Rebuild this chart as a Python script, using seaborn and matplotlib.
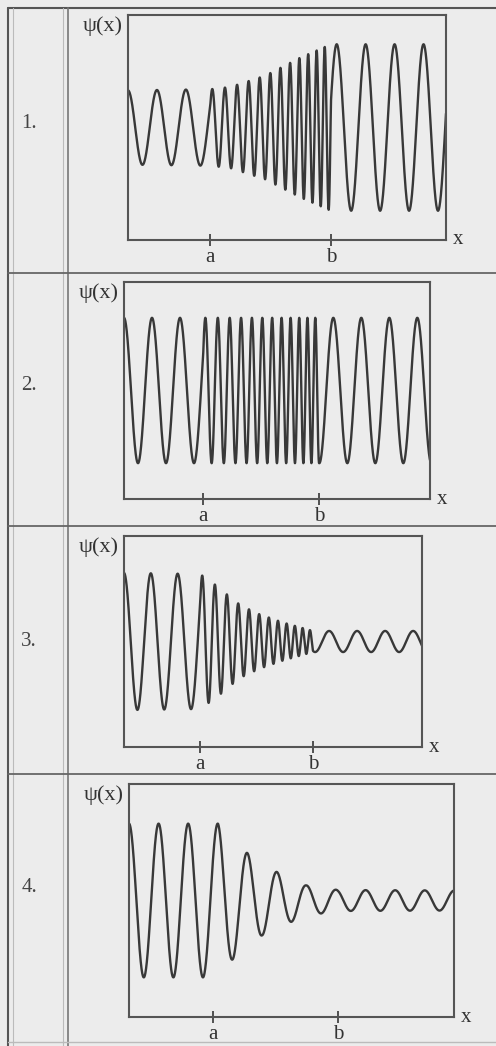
import numpy as np
import pandas as pd
import seaborn as sns
import matplotlib.pyplot as plt
from matplotlib.lines import Line2D

# every box spans x = 0..10, y = -1..1
a_pos = [2.58, 2.58, 2.55, 2.58]
b_pos = [6.38, 6.37, 6.34, 6.43]

# local wavelength and amplitude, given at knots along x
p1_period_x = [0, 2.58, 2.59, 6.38, 6.39, 10]
p1_period = [0.91, 0.91, 0.41, 0.24, 0.91, 0.91]
p1_amp_x = [0, 2.58, 3.21, 4.31, 5.41, 6.38, 10]
p1_amp = [0.33, 0.34, 0.36, 0.46, 0.62, 0.74, 0.74]

p2_period_x = [0, 2.58, 2.59, 6.37, 6.38, 10]
p2_period = [0.915, 0.915, 0.42, 0.245, 0.915, 0.915]
p2_amp_x = [0, 10]
p2_amp = [0.67, 0.67]

p3_period_x = [0, 2.55, 2.56, 6.34, 6.35, 10]
p3_period = [0.9, 0.9, 0.44, 0.235, 0.94, 0.94]
p3_amp_x = [0, 2.55, 3.15, 3.56, 3.93, 4.53, 5.34, 6.34, 10]
p3_amp = [0.65, 0.64, 0.52, 0.42, 0.34, 0.26, 0.18, 0.1, 0.1]

p4_period_x = [0, 10]
p4_period = [0.91, 0.91]
p4_amp_x = [0, 2.74, 3.17, 3.63, 4.09, 4.55, 5.02, 5.45, 5.94, 6.43, 10]
p4_amp = [0.66, 0.66, 0.51, 0.41, 0.30, 0.245, 0.18, 0.13, 0.11, 0.09, 0.086]

row_labels = ["1.", "2.", "3.", "4."]

# box positions in pixels: left, right, top, bottom
boxes = [(128, 446, 15, 240), (124, 430, 282, 499),
         (124, 422, 536, 747), (129, 454, 784, 1017)]
label_y = [123, 386, 641, 887]

W, H = 496, 1046
bg = "#ececec"
ink = "#383838"

sns.set_style("white")
plt.rcParams["font.family"] = ["Liberation Serif", "DejaVu Serif"]

fig = plt.figure(figsize=(W / 100, H / 100), dpi=100, facecolor=bg)


def line_px(x0, y0, x1, y1, **kw):
    fig.add_artist(Line2D([x0 / W, x1 / W], [1 - y0 / H, 1 - y1 / H], **kw))


def wave(px, p, ax_, ay):
    x = np.linspace(0, 10, 5000)
    period = np.interp(x, px, p)
    dx = np.diff(x, prepend=0)
    phase = 2 * np.pi * np.cumsum(dx / period)
    return pd.DataFrame({"x": x, "psi": np.interp(x, ax_, ay) * np.cos(phase)})


panels = [
    wave(p1_period_x, p1_period, p1_amp_x, p1_amp),
    wave(p2_period_x, p2_period, p2_amp_x, p2_amp),
    wave(p3_period_x, p3_period, p3_amp_x, p3_amp),
    wave(p4_period_x, p4_period, p4_amp_x, p4_amp),
]

# table frame
line_px(8, 8, 496, 8, color="#555555", lw=1.5)
line_px(8, 8, 8, 1046, color="#555555", lw=1.5)
line_px(13, 8, 13, 1046, color="#bbbbbb", lw=0.8)
line_px(63, 8, 63, 1046, color="#bbbbbb", lw=0.8)
line_px(68, 8, 68, 1046, color="#777777", lw=1.2)
for yy in [273, 526, 774]:
    line_px(8, yy, 496, yy, color="#666666", lw=1.3)
line_px(8, 1042, 496, 1042, color="#bbbbbb", lw=1.0)

for i, df in enumerate(panels):
    x0, x1, y0, y1 = boxes[i]
    ax = fig.add_axes([x0 / W, 1 - y1 / H, (x1 - x0) / W, (y1 - y0) / H])
    ax.set_facecolor(bg)
    sns.lineplot(data=df, x="x", y="psi", ax=ax, color=ink, lw=1.7,
                 estimator=None, sort=False)
    ax.set_xlim(0, 10)
    ax.set_ylim(-1, 1)
    ax.set_xlabel("")
    ax.set_ylabel("")
    ax.set_yticks([])
    ax.set_xticks([a_pos[i], b_pos[i]])
    ax.set_xticklabels(["a", "b"])
    ax.tick_params(axis="x", bottom=True, direction="inout", length=9,
                   width=1.3, color="#444444", labelsize=15, pad=1,
                   labelcolor="#333333")
    for s in ax.spines.values():
        s.set_visible(True)
        s.set_color("#555555")
        s.set_linewidth(1.5)
    ax.annotate("x", xy=(1, 0), xycoords="axes fraction", xytext=(5, 0),
                textcoords="offset points", ha="left", va="center",
                fontsize=15, color="#333333")
    ax.annotate("ψ(x)", xy=(0, 1), xycoords="axes fraction", xytext=(-4, -1),
                textcoords="offset points", ha="right", va="top",
                fontsize=16, color="#333333")
    fig.text(29 / W, 1 - label_y[i] / H, row_labels[i], ha="center",
             va="center", fontsize=15, color="#444444")

fig.savefig("out.png", dpi=100, facecolor=bg)
